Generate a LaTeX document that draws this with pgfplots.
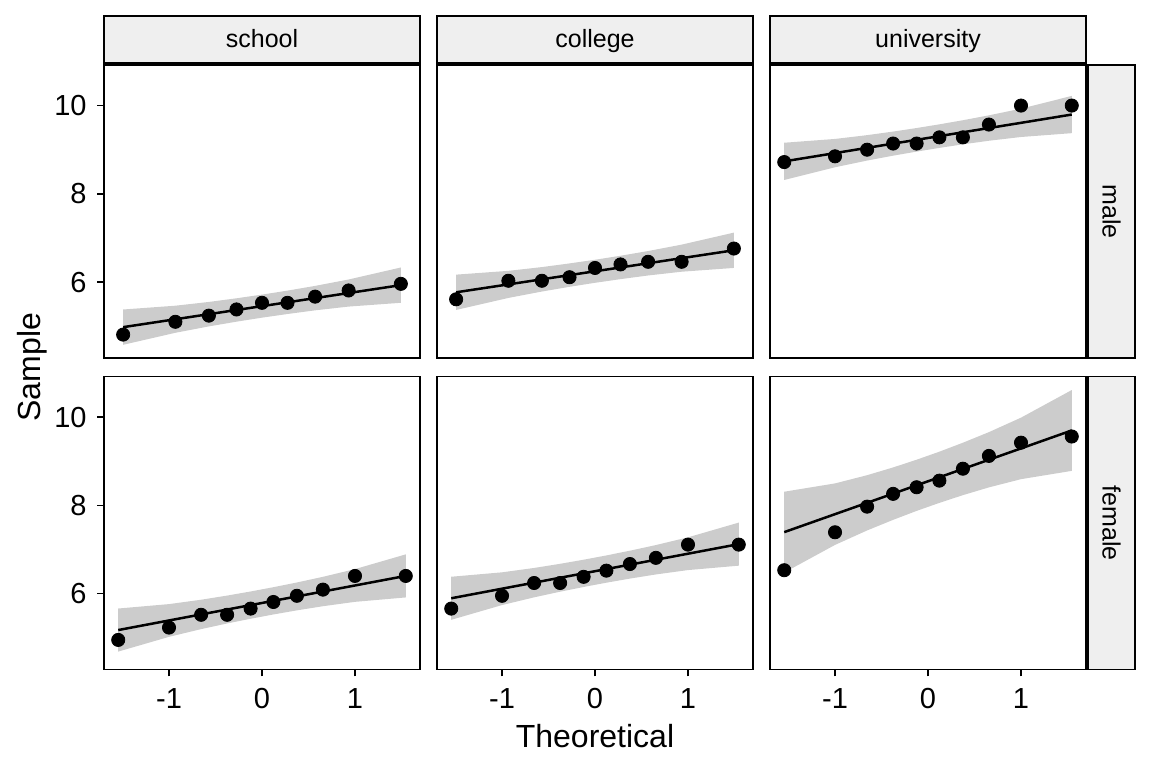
\documentclass[border=0pt]{standalone}
\usepackage{fontspec}
\setmainfont{Liberation Sans}
\usepackage{pgfplots}
\pgfplotsset{compat=1.18}
\usepackage{pgfplotstable}
\usepgfplotslibrary{fillbetween}

\definecolor{bandgray}{RGB}{204,204,204}
\definecolor{stripgray}{RGB}{239,239,239}

% z: theoretical quantile, s: sample, fit: reference line, lo/hi: 95% band
\pgfplotstableread{
z s fit lo hi
-1.4941 4.81 4.979 4.579 5.379
-0.9320 5.10 5.158 4.851 5.465
-0.5716 5.24 5.273 4.996 5.550
-0.2744 5.38 5.368 5.103 5.633
0.0000 5.53 5.455 5.194 5.716
0.2744 5.53 5.542 5.277 5.807
0.5716 5.67 5.637 5.360 5.914
0.9320 5.81 5.752 5.445 6.059
1.4941 5.96 5.931 5.531 6.331
}\schoolmale

\pgfplotstableread{
z s fit lo hi
-1.4941 5.61 5.769 5.369 6.169
-0.9320 6.03 5.948 5.641 6.255
-0.5716 6.03 6.063 5.786 6.340
-0.2744 6.11 6.158 5.893 6.423
0.0000 6.32 6.245 5.984 6.506
0.2744 6.40 6.332 6.067 6.597
0.5716 6.46 6.427 6.150 6.704
0.9320 6.46 6.542 6.235 6.849
1.4941 6.76 6.721 6.321 7.121
}\collegemale

\pgfplotstableread{
z s fit lo hi
-1.5468 8.72 8.736 8.314 9.158
-1.0005 8.85 8.923 8.602 9.244
-0.6553 9.00 9.042 8.754 9.330
-0.3755 9.14 9.138 8.865 9.411
-0.1225 9.14 9.224 8.957 9.491
0.1225 9.28 9.308 9.041 9.575
0.3755 9.28 9.395 9.122 9.668
0.6553 9.57 9.491 9.203 9.779
1.0005 10.00 9.609 9.288 9.930
1.5468 10.00 9.797 9.375 10.219
}\univmale

\pgfplotstableread{
z s fit lo hi
-1.5468 4.95 5.174 4.686 5.662
-1.0005 5.23 5.391 5.020 5.762
-0.6553 5.52 5.528 5.195 5.861
-0.3755 5.52 5.639 5.323 5.955
-0.1225 5.66 5.739 5.430 6.048
0.1225 5.81 5.836 5.527 6.145
0.3755 5.95 5.936 5.620 6.252
0.6553 6.09 6.047 5.714 6.380
1.0005 6.40 6.184 5.813 6.555
1.5468 6.40 6.401 5.913 6.889
}\schoolfemale

\pgfplotstableread{
z s fit lo hi
-1.5468 5.66 5.894 5.406 6.382
-1.0005 5.95 6.111 5.740 6.482
-0.6553 6.24 6.248 5.915 6.581
-0.3755 6.24 6.359 6.043 6.675
-0.1225 6.38 6.459 6.150 6.768
0.1225 6.52 6.556 6.247 6.865
0.3755 6.67 6.656 6.340 6.972
0.6553 6.81 6.767 6.434 7.100
1.0005 7.11 6.904 6.533 7.275
1.5468 7.11 7.121 6.633 7.609
}\collegefemale

\pgfplotstableread{
z s fit lo hi
-1.5468 6.53 7.393 6.477 8.309
-1.0005 7.39 7.800 7.103 8.497
-0.6553 7.97 8.057 7.431 8.683
-0.3755 8.26 8.265 7.671 8.859
-0.1225 8.41 8.454 7.874 9.034
0.1225 8.56 8.636 8.056 9.216
0.3755 8.83 8.825 8.231 9.419
0.6553 9.12 9.033 8.407 9.659
1.0005 9.42 9.290 8.593 9.987
1.5468 9.56 9.697 8.781 10.613
}\univfemale

\pgfplotsset{
  qqpanel/.style={
    scale only axis, width=158bp, height=146.5bp,
    anchor=south west,
    xmin=-1.70, xmax=1.70, ymin=4.28, ymax=10.92,
    axis line style={line width=0.9bp},
    tick style={black, line width=0.75bp},
    major tick length=3.5bp, tick align=outside,
    xtick={-1,0,1}, ytick={6,8,10},
    xticklabels={{-1},{0},{1}}, yticklabels={6,8,10},
    tick pos=left,
    tick label style={font=\fontsize{14.5bp}{16bp}\selectfont, inner sep=0pt},
    xticklabel style={anchor=north, yshift=-5.75bp},
    yticklabel style={anchor=east, xshift=-5bp},
  },
  noxticks/.style={xtick=\empty},
  noyticks/.style={ytick=\empty},
}

% band, reference line and sample points of one panel
\newcommand{\qqlayers}[1]{%
  \addplot[name path=hi, draw=none] table[x=z,y=hi]{#1};
  \addplot[name path=lo, draw=none] table[x=z,y=lo]{#1};
  \addplot[fill=bandgray, draw=none] fill between[of=hi and lo];
  \addplot[black, line width=1.25bp] table[x=z,y=fit]{#1};
  \addplot[only marks, mark=*, mark size=3.3bp, black] table[x=z,y=s]{#1};
}

\begin{document}
\begin{tikzpicture}
\path (0,0) rectangle (576bp,384bp);

% male row
\begin{axis}[qqpanel, noxticks, at={(52bp,205bp)}]
\qqlayers{\schoolmale}
\end{axis}
\begin{axis}[qqpanel, noxticks, noyticks, at={(218.5bp,205bp)}]
\qqlayers{\collegemale}
\end{axis}
\begin{axis}[qqpanel, noxticks, noyticks, at={(385bp,205bp)}]
\qqlayers{\univmale}
\end{axis}

% female row
\begin{axis}[qqpanel, at={(52bp,49.25bp)}]
\qqlayers{\schoolfemale}
\end{axis}
\begin{axis}[qqpanel, noyticks, at={(218.5bp,49.25bp)}]
\qqlayers{\collegefemale}
\end{axis}
\begin{axis}[qqpanel, noyticks, at={(385bp,49.25bp)}]
\qqlayers{\univfemale}
\end{axis}

% facet strips
\begin{scope}[line width=0.9bp, font=\fontsize{12.5bp}{14bp}\selectfont]
\draw[fill=stripgray] (52bp,352.5bp) rectangle (210bp,376bp);
\draw[fill=stripgray] (218.5bp,352.5bp) rectangle (376.5bp,376bp);
\draw[fill=stripgray] (385bp,352.5bp) rectangle (543bp,376bp);
\node[anchor=base] at (131bp,360bp) {school};
\node[anchor=base] at (297.5bp,360bp) {college};
\node[anchor=base] at (464bp,360bp) {university};
\draw[fill=stripgray] (544bp,205bp) rectangle (567.5bp,351.5bp);
\draw[fill=stripgray] (544bp,49.25bp) rectangle (567.5bp,195.75bp);
\node[rotate=-90] at (555.75bp,278.25bp) {male};
\node[rotate=-90] at (555.75bp,122.5bp) {female};
\end{scope}

% axis titles
\node[anchor=base, font=\fontsize{16bp}{19bp}\selectfont] at (297.5bp,10.5bp) {Theoretical};
\node[anchor=base, rotate=90, font=\fontsize{16bp}{19bp}\selectfont] at (20.25bp,200.4bp) {Sample};

\pgfresetboundingbox
\path[use as bounding box] (0,0) rectangle (576bp,384bp);
\end{tikzpicture}
\end{document}
